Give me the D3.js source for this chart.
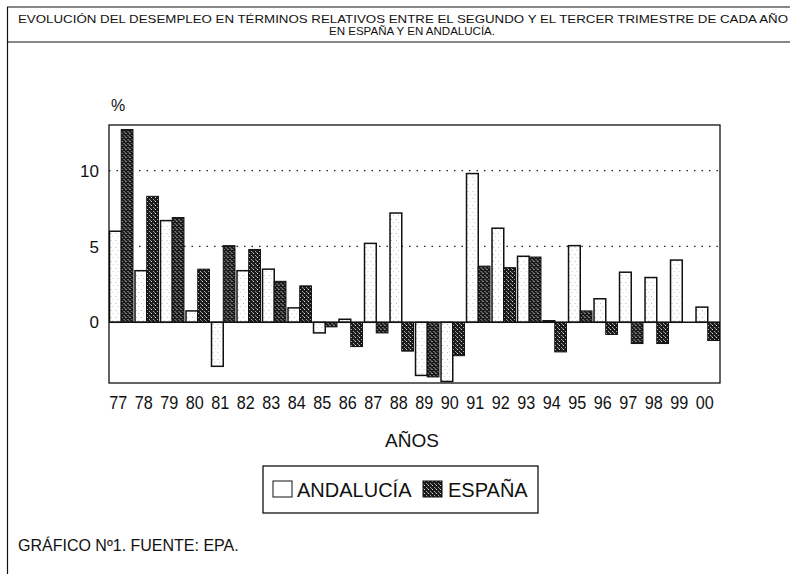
<!DOCTYPE html>
<html>
<head>
<meta charset="utf-8">
<script src="https://cdn.jsdelivr.net/npm/d3@7"></script>
<style>
  body{margin:0;background:#fff;}
  text{font-family:"Liberation Sans",Arial,sans-serif;fill:#111;}
</style>
</head>
<body>
<div id="svgWrapper"></div>
<script>
// data
var years = ["77","78","79","80","81","82","83","84","85","86","87","88","89","90","91","92","93","94","95","96","97","98","99","00"];
var andalucia = [6.0,3.4,6.7,0.75,-2.9,3.4,3.5,0.95,-0.7,0.2,5.2,7.2,-3.5,-3.9,9.8,6.2,4.35,0.1,5.05,1.55,3.3,2.95,4.1,1.0];
var espana = [12.7,8.3,6.9,3.5,5.05,4.8,2.7,2.4,-0.3,-1.6,-0.7,-1.9,-3.6,-2.2,3.7,3.6,4.3,-1.95,0.75,-0.8,-1.4,-1.4,0,-1.2];
var yTicks = [0,5,10];
var gridTicks = [5,10];
var seriesNames = ["ANDALUCÍA","ESPAÑA"];

var widthX = 793;
var widthY = 574;
var plotLeft = 109, plotRight = 720, plotTop = 125, plotBottom = 383;

var svg = d3.select("#svgWrapper").append("svg")
  .attr("width",widthX)
  .attr("height",widthY);

//patterns for the two series
var defs = svg.append("defs");
var pA = defs.append("pattern")
  .attr("id","patA")
  .attr("width",5).attr("height",7)
  .attr("patternUnits","userSpaceOnUse");
pA.append("rect").attr("width",5).attr("height",7).attr("fill","#fff");
pA.append("rect").attr("x",1).attr("y",2).attr("width",1).attr("height",1).attr("fill","#bbb");
pA.append("rect").attr("x",3).attr("y",5).attr("width",1).attr("height",1).attr("fill","#ccc");

var pE = defs.append("pattern")
  .attr("id","patE")
  .attr("width",4).attr("height",4)
  .attr("patternUnits","userSpaceOnUse");
pE.append("rect").attr("width",4).attr("height",4).attr("fill","#1a1a1a");
pE.append("rect").attr("x",0).attr("y",1).attr("width",1).attr("height",1).attr("fill","#ddd");
pE.append("rect").attr("x",2).attr("y",3).attr("width",1).attr("height",1).attr("fill","#aaa");
pE.append("rect").attr("x",3).attr("y",0).attr("width",1).attr("height",1).attr("fill","#888");

//frame lines of the page
svg.append("line").attr("x1",7).attr("y1",7).attr("x2",790).attr("y2",7).attr("stroke","#111").attr("stroke-width",1.2);
svg.append("line").attr("x1",7.5).attr("y1",7).attr("x2",7.5).attr("y2",574).attr("stroke","#111").attr("stroke-width",1.2);
svg.append("line").attr("x1",7).attr("y1",42).attr("x2",790).attr("y2",42).attr("stroke","#111").attr("stroke-width",1.2);

//title
svg.append("text")
  .attr("x",18).attr("y",23)
  .attr("textLength",770)
  .attr("lengthAdjust","spacingAndGlyphs")
  .style("font-size","11px")
  .text("EVOLUCIÓN DEL DESEMPLEO EN TÉRMINOS RELATIVOS ENTRE EL SEGUNDO Y EL TERCER TRIMESTRE DE CADA AÑO");
svg.append("text")
  .attr("x",329).attr("y",35)
  .attr("textLength",166)
  .attr("lengthAdjust","spacingAndGlyphs")
  .style("font-size","11px")
  .text("EN ESPAÑA Y EN ANDALUCÍA.");

var x = d3.scaleBand()
  .domain(years)
  .range([plotLeft,plotRight])
  .paddingInner(0.08)
  .paddingOuter(0.02);
var xs = d3.scaleBand()
  .domain([0,1])
  .range([0,x.bandwidth()]);
var y = d3.scaleLinear()
  .domain([-4,13])
  .range([plotBottom,plotTop]);

//grid
svg.append("g").selectAll("line")
  .data(gridTicks)
  .enter()
  .append("line")
  .attr("x1",plotLeft).attr("x2",plotRight)
  .attr("y1",function(d){return y(d);})
  .attr("y2",function(d){return y(d);})
  .attr("stroke","#222")
  .attr("stroke-width",1.2)
  .attr("stroke-dasharray","1.5,6");

//bars
var groups = svg.append("g").selectAll("g")
  .data(years)
  .enter()
  .append("g")
  .attr("transform",function(d){return "translate("+x(d)+",0)";});

groups.append("rect")
  .attr("x",xs(0))
  .attr("width",xs.bandwidth())
  .attr("y",function(d,i){return y(Math.max(0,andalucia[i]));})
  .attr("height",function(d,i){return Math.abs(y(andalucia[i])-y(0));})
  .attr("fill","url(#patA)")
  .attr("stroke","#111")
  .attr("stroke-width",1.5);

groups.append("rect")
  .attr("x",xs(1))
  .attr("width",xs.bandwidth())
  .attr("y",function(d,i){return y(Math.max(0,espana[i]));})
  .attr("height",function(d,i){return Math.abs(y(espana[i])-y(0));})
  .attr("fill","url(#patE)")
  .attr("stroke","#111")
  .attr("stroke-width",1)
  .style("display",function(d,i){return espana[i]==0?"none":null;});

//zero line and plot frame
svg.append("line")
  .attr("x1",plotLeft).attr("x2",plotRight)
  .attr("y1",y(0)).attr("y2",y(0))
  .attr("stroke","#111").attr("stroke-width",1.5);
svg.append("rect")
  .attr("x",plotLeft).attr("y",plotTop)
  .attr("width",plotRight-plotLeft).attr("height",plotBottom-plotTop)
  .attr("fill","none").attr("stroke","#111").attr("stroke-width",1.3);

//y labels
svg.append("g").selectAll("text")
  .data(yTicks)
  .enter()
  .append("text")
  .attr("x",99)
  .attr("y",function(d){return y(d);})
  .attr("dy","0.36em")
  .attr("text-anchor","end")
  .style("font-size","17px")
  .text(function(d){return d;});
svg.append("text")
  .attr("x",111).attr("y",111)
  .style("font-size","16px")
  .text("%");

//x labels
svg.append("g").selectAll("text")
  .data(years)
  .enter()
  .append("text")
  .attr("x",function(d){return x(d)+x.bandwidth()/2-3;})
  .attr("y",409)
  .attr("text-anchor","middle")
  .attr("textLength",18)
  .attr("lengthAdjust","spacingAndGlyphs")
  .style("font-size","19px")
  .text(function(d){return d;});

svg.append("text")
  .attr("x",412).attr("y",447)
  .attr("text-anchor","middle")
  .style("font-size","19px")
  .text("AÑOS");

//legend
var legend = svg.append("g");
legend.append("rect")
  .attr("x",263).attr("y",466)
  .attr("width",275).attr("height",47)
  .attr("fill","#fff").attr("stroke","#111").attr("stroke-width",1.3);
legend.selectAll("rect.key")
  .data(seriesNames)
  .enter()
  .append("rect")
  .attr("class","key")
  .attr("x",function(d,i){return i==0?273:423;})
  .attr("y",481)
  .attr("width",19).attr("height",16)
  .attr("fill",function(d,i){return i==0?"#fff":"url(#patE)";})
  .attr("stroke","#111").attr("stroke-width",1);
legend.selectAll("text")
  .data(seriesNames)
  .enter()
  .append("text")
  .attr("x",function(d,i){return i==0?297:448;})
  .attr("y",497)
  .style("font-size","20px")
  .text(function(d){return d;});

//source
svg.append("text")
  .attr("x",18).attr("y",551)
  .style("font-size","16px")
  .text("GRÁFICO Nº1. FUENTE: EPA.");
</script>
</body>
</html>
